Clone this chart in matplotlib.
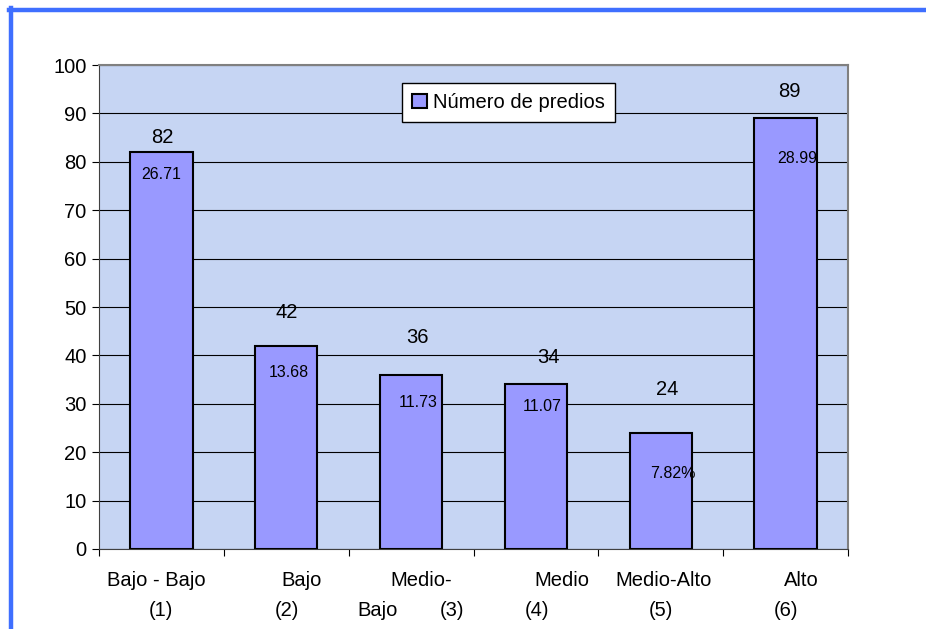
import matplotlib.pyplot as plt
from matplotlib.lines import Line2D

plt.rcParams["font.family"] = ["Liberation Sans", "DejaVu Sans"]

# datos
categorias = ["Bajo - Bajo (1)", "Bajo (2)", "Medio-Bajo (3)", "Medio (4)", "Medio-Alto (5)", "Alto (6)"]
predios = [82, 42, 36, 34, 24, 89]
porcentajes = ["26.71", "13.68", "11.73", "11.07", "7.82%", "28.99"]
yticks = [0, 10, 20, 30, 40, 50, 60, 70, 80, 90, 100]

# posiciones de las etiquetas (como en la imagen original)
val_dx = [0.01, 0.0, 0.05, 0.1, 0.05, 0.03]
val_dy = [3.1, 6.8, 7.8, 5.5, 9.0, 5.5]
pct_dx = [0.0, 0.02, 0.06, 0.05, 0.1, 0.09]
pct_dy = [-4.6, -5.5, -5.7, -4.5, -8.3, -8.4]
# trozos de etiquetas del eje x: (texto, x, fila)
xlab_piezas = [
    ("Bajo - Bajo", -0.039, 0), ("(1)", 0.0, 1),
    ("Bajo", 1.119, 0), ("(2)", 1.002, 1),
    ("Medio-", 2.08, 0), ("Bajo", 1.728, 1), ("(3)", 2.328, 1),
    ("Medio", 3.206, 0), ("(4)", 3.01, 1),
    ("Medio-Alto", 4.023, 0), ("(5)", 3.999, 1),
    ("Alto", 5.125, 0), ("(6)", 5.005, 1),
]

fig = plt.figure(figsize=(9.26, 6.29), dpi=100)
ax = fig.add_axes([99 / 926, 80 / 629, 749 / 926, 484 / 629])
ax.set_facecolor("#c6d5f3")

x = list(range(len(predios)))
ax.bar(x, predios, width=0.5, color="#9999ff", edgecolor="black", linewidth=1.5,
       label="Número de predios", zorder=3)

ax.set_xlim(-0.5, 5.5)
ax.set_ylim(0, 100)
ax.set_yticks(yticks)
ax.tick_params(axis="y", labelsize=14.5, length=5, direction="out", pad=4)
ax.set_xticks([i - 0.5 for i in range(len(predios) + 1)])
ax.set_xticklabels([])
ax.tick_params(axis="x", length=5, direction="out")
ax.grid(axis="y", color="black", linewidth=0.8, zorder=1)
ax.set_axisbelow(True)
for s in ["top", "right"]:
    ax.spines[s].set_color("#808080")
    ax.spines[s].set_linewidth(1.5)
for s in ["left", "bottom"]:
    ax.spines[s].set_color("#404040")

for i, v in enumerate(predios):
    ax.text(i + val_dx[i], v + val_dy[i], str(v), ha="center", va="center", fontsize=14.5, zorder=4)
    ax.text(i + pct_dx[i], v + pct_dy[i], porcentajes[i], ha="center", va="center", fontsize=11.5, zorder=4)

trans = ax.get_xaxis_transform()
for txt, xp, fila in xlab_piezas:
    ypx = 580 if fila == 0 else 610
    ax.text(xp, (549 - ypx) / 484, txt, transform=trans, ha="center", va="center",
            fontsize=14.5, clip_on=False)

leg = ax.legend(loc="upper left", bbox_to_anchor=(0.391, 0.963), fontsize=14.5, frameon=True,
                fancybox=False, edgecolor="black", framealpha=1, handlelength=0.75,
                handleheight=0.75, handletextpad=0.3, borderpad=0.5, borderaxespad=0)
leg.get_frame().set_linewidth(1.0)
leg.set_zorder(5)
# la caja original es algo más ancha que el texto
fig.canvas.draw()
bb = leg.get_window_extent()
leg.set_bbox_to_anchor((0.391 + 10 / 749, 0.963), transform=ax.transAxes)
leg.get_frame().set_bounds(bb.x0 - 10, bb.y0, bb.width + 20, bb.height)
leg.get_frame().set_transform(None)

# marco azul
fig.add_artist(Line2D([9 / 926, 1], [1 - 10 / 629, 1 - 10 / 629], color="#3f6fff", linewidth=3.2))
fig.add_artist(Line2D([11 / 926, 11 / 926], [0, 1 - 8 / 629], color="#3f6fff", linewidth=3.2))

plt.savefig("out.png", dpi=100)
